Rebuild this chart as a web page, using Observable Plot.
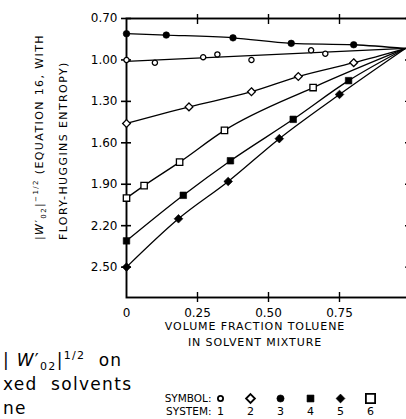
<!DOCTYPE html>
<html><head><meta charset="utf-8">
<script src="https://cdn.jsdelivr.net/npm/d3@7"></script>
<script src="https://cdn.jsdelivr.net/npm/@observablehq/plot@0.6"></script>
<style>
body{margin:0;background:#fff;}
#wrap{position:relative;width:406px;height:419px;overflow:hidden;font-family:"DejaVu Sans",sans-serif;color:#000;background:#fff;}
.abs{position:absolute;white-space:nowrap;}
#main,#legend{position:absolute;left:0;}
#main{top:0;}
#legend{top:388px;}
sub,sup{line-height:0;}
</style></head><body><div id="wrap"><div id="main"></div><div id="legend"></div></div>
<script>
// ---- data ----
const systems = [1, 2, 3, 4, 5, 6];
const symbolNames = ["circle", "diamond2", "circle", "square", "diamond2", "square"];
const openSystems = [1, 2, 6];
const markerR = [2.6, 3.5, 3.3, 3.7, 3.9, 3.6];
const legendR = [2.6, 4.0, 3.6, 3.9, 4.0, 5.2];

const x1 = [0, 0.10, 0.27, 0.32, 0.44, 0.65, 0.70];
const y1 = [1.00, 1.02, 0.98, 0.96, 1.00, 0.93, 0.955];
const x2 = [0, 0.22, 0.44, 0.605, 0.80];
const y2 = [1.46, 1.34, 1.23, 1.12, 1.02];
const x3 = [0, 0.14, 0.375, 0.58, 0.80];
const y3 = [0.81, 0.82, 0.84, 0.88, 0.89];
const x4 = [0, 0.20, 0.366, 0.587, 0.782];
const y4 = [2.31, 1.98, 1.73, 1.43, 1.15];
const x5 = [0, 0.183, 0.358, 0.538, 0.75];
const y5 = [2.50, 2.15, 1.88, 1.57, 1.25];
const x6 = [0, 0.062, 0.187, 0.345, 0.657];
const y6 = [2.00, 1.91, 1.74, 1.51, 1.20];

// common end point where all curves meet (pure toluene side)
const endX = 0.982, endY = 0.917;
// system 1 drawn as a straight fitted line
const fit1X = [0, 0.982];
const fit1Y = [1.011, 0.917];

const yTicks = [0.70, 1.00, 1.30, 1.60, 1.90, 2.20, 2.50];
const xTicks = [0, 0.25, 0.50, 0.75];
const yDomain = [0.70, 2.72];
const xDomain = [0, 1];

// ---- tables ----
const XS = [x1, x2, x3, x4, x5, x6], YS = [y1, y2, y3, y4, y5, y6];
const points = systems.flatMap((s, k) => XS[k].map((x, i) => ({sys: s, x, y: YS[k][i], r: markerR[k]})));
const lines = systems.flatMap((s, k) => {
  if (s === 1) return fit1X.map((x, i) => ({sys: s, x, y: fit1Y[i]}));
  return [...XS[k].map((x, i) => ({sys: s, x, y: YS[k][i]})), {sys: s, x: endX, y: endY}];
});
const isOpen = d => openSystems.includes(d.sys);

const fmtY = d3.format(".2f");
const fmtX = d => d === 0 ? "0" : d3.format(".2f")(d);

const chart = Plot.plot({
  width: 406, height: 322,
  marginLeft: 126, marginRight: -4, marginTop: 18, marginBottom: 25,
  style: {fontFamily: "DejaVu Sans, sans-serif", fontSize: "12px", background: "white", color: "black"},
  x: {domain: xDomain, label: null},
  y: {domain: yDomain, reverse: true, label: null},
  r: {type: "identity"},
  symbol: {domain: systems, range: symbolNames},
  marks: [
    Plot.frame({stroke: "black", strokeWidth: 1.9}),
    Plot.axisY({ticks: yTicks, tickSize: 10, dx: 5, tickFormat: () => "", strokeWidth: 1.6}),
    Plot.axisY({ticks: yTicks, tickSize: 0, tickPadding: 9, tickFormat: fmtY}),
    Plot.axisY({anchor: "right", ticks: yTicks, tickSize: 6, dx: -6, tickFormat: () => "", strokeWidth: 1.4}),
    Plot.axisX({ticks: xTicks.slice(1), tickSize: 10, dy: -5, tickFormat: () => "", strokeWidth: 1.4}),
    Plot.axisX({anchor: "top", ticks: xTicks.slice(1), tickSize: 10, dy: 5, tickFormat: () => "", strokeWidth: 1.4}),
    Plot.axisX({ticks: xTicks, tickSize: 0, tickPadding: 11, tickFormat: fmtX}),
    Plot.line(lines, {x: "x", y: "y", z: "sys", stroke: "black", strokeWidth: 1.3, curve: "monotone-x"}),
    Plot.dot(points.filter(isOpen), {x: "x", y: "y", r: "r", symbol: "sys", fill: "white", stroke: "black", strokeWidth: 1.3}),
    Plot.dot(points.filter(d => !isOpen(d)), {x: "x", y: "y", r: "r", symbol: "sys", fill: "black", stroke: "black", strokeWidth: 0.6})
  ]
});
document.getElementById("main").appendChild(chart);

// ---- legend (symbol / system) ----
const legendRows = ["SYMBOL:", "SYSTEM:"];
const legendData = systems.map((s, k) => ({sys: s, r: legendR[k], open: openSystems.includes(s)}));
const legend = Plot.plot({
  width: 406, height: 31,
  marginLeft: 214, marginRight: 34, marginTop: 10, marginBottom: 8,
  style: {fontFamily: "DejaVu Sans, sans-serif", fontSize: "10.5px", background: "white", color: "black"},
  x: {type: "point", domain: systems, insetLeft: 4, axis: null, padding: 0},
  y: {type: "point", domain: legendRows, padding: 0, label: null},
  r: {type: "identity"},
  symbol: {domain: systems, range: symbolNames},
  marks: [
    Plot.axisY({tickSize: 0, tickPadding: 3, fontSize: 10.5, letterSpacing: 0.5}),
    Plot.dot(legendData.filter(d => d.open), {x: "sys", y: () => legendRows[0], r: "r", symbol: "sys", fill: "white", stroke: "black", strokeWidth: 1.8}),
    Plot.dot(legendData.filter(d => !d.open), {x: "sys", y: () => legendRows[0], r: "r", symbol: "sys", fill: "black", stroke: "black", strokeWidth: 0.6}),
    Plot.text(legendData, {x: "sys", y: () => legendRows[1], text: d => String(d.sys), fontSize: 11})
  ]
});
document.getElementById("legend").appendChild(legend);

// ---- text annotations ----
const wrap = document.getElementById("wrap");
function addDiv(html, css) {
  const d = document.createElement("div");
  d.className = "abs";
  d.innerHTML = html;
  Object.assign(d.style, css);
  wrap.appendChild(d);
}
// y-axis title (rotated)
addDiv('<div>|<i>W</i>′<sub style="font-size:7px">02</sub>|<sup style="font-size:7px">−1/2</sup> (EQUATION 16, WITH</div><div>FLORY-HUGGINS ENTROPY)</div>',
  {left: "28px", top: "240px", transformOrigin: "0 0", transform: "rotate(-90deg)", fontSize: "11px", lineHeight: "24px", letterSpacing: "1.4px"});
// x-axis title
addDiv('VOLUME FRACTION TOLUENE<br>IN SOLVENT MIXTURE',
  {left: "155px", width: "200px", top: "319px", textAlign: "center", fontSize: "11px", lineHeight: "16px", letterSpacing: "0.9px"});
// figure caption (cropped in the source)
addDiv('| <i>W</i>′<sub style="font-size:11px">02</sub>|<sup style="font-size:11px">1/2</sup>&nbsp; on<br>xed&nbsp; solvents<br>ne',
  {left: "3px", top: "348px", fontSize: "17px", lineHeight: "24px", letterSpacing: "1.3px"});
</script></body></html>
